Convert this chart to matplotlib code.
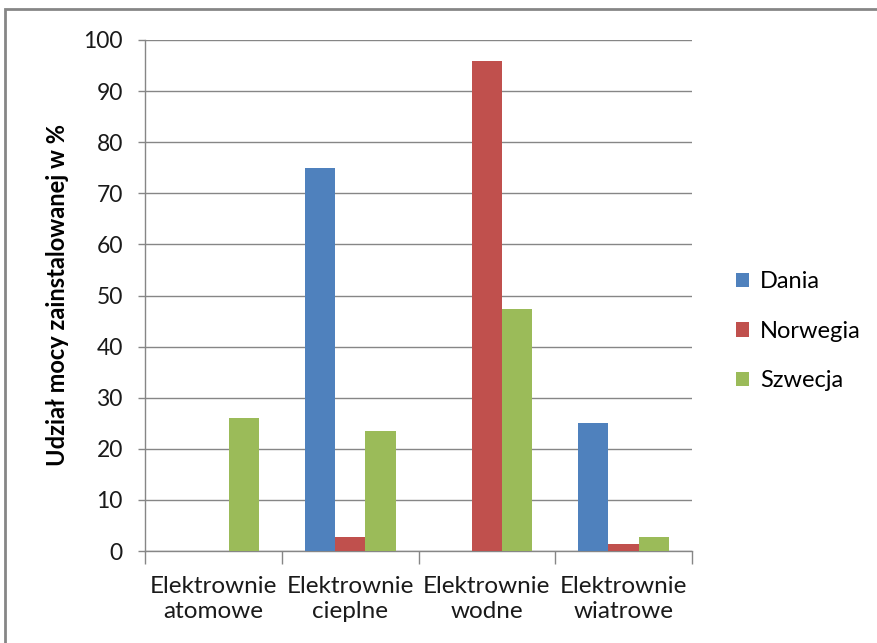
import numpy as np
import matplotlib.pyplot as plt
from matplotlib.patches import Rectangle

plt.rcParams['font.family'] = ['Lato', 'DejaVu Sans']

categories = ['Elektrownie\natomowe', 'Elektrownie\ncieplne',
              'Elektrownie\nwodne', 'Elektrownie\nwiatrowe']
series = ['Dania', 'Norwegia', 'Szwecja']
dania = [0, 75, 0, 25]
norwegia = [0, 2.8, 95.8, 1.4]
szwecja = [26, 23.5, 47.3, 2.8]
colors = ['#4F81BD', '#C0504D', '#9BBB59']

fig = plt.figure(figsize=(8.77, 6.43), dpi=100)
ax = fig.add_axes([145 / 877, 1 - 551 / 643, 547 / 877, 511 / 643])

# obramowanie wykresu
fig.patches.append(Rectangle((5 / 877, -0.1), 1.2, 1.1 - 9 / 643,
                             transform=fig.transFigure, fill=False,
                             edgecolor='#868686', linewidth=2))

x = np.arange(len(categories))
w = 1 / 4.5
for i, (vals, name) in enumerate(zip([dania, norwegia, szwecja], series)):
    ax.bar(x + (i - 1) * w, vals, width=w, color=colors[i], label=name,
           zorder=3)

ax.set_xlim(-0.5, 3.5)
ax.set_ylim(0, 100)
ax.set_yticks(np.arange(0, 101, 10))
ax.yaxis.grid(True, color='#868686', linewidth=1, zorder=0)

ax.set_xticks(x)
ax.set_xticklabels(categories, fontsize=17.5, color='#1a1a1a', linespacing=1.25)
ax.set_xticks(np.arange(-0.5, 4, 1), minor=True)
ax.tick_params(axis='x', which='major', length=0, pad=18)
ax.tick_params(axis='x', which='minor', length=9, color='#868686', width=1)
ax.tick_params(axis='y', length=5, color='#868686', width=1, labelsize=16.5,
               labelcolor='#1a1a1a', pad=11)

for s in ['top', 'right']:
    ax.spines[s].set_visible(False)
for s in ['left', 'bottom']:
    ax.spines[s].set_color('#868686')
    ax.spines[s].set_linewidth(1)

ax.set_ylabel('Udział mocy zainstalowanej w %', fontsize=17,
              fontweight='bold', labelpad=10)

ax.legend(loc='center left', bbox_to_anchor=(1.042, 0.43), frameon=False,
          fontsize=17, handlelength=0.55, handleheight=0.55,
          handletextpad=0.45, labelspacing=1.2)

fig.savefig('out.png', dpi=100)
